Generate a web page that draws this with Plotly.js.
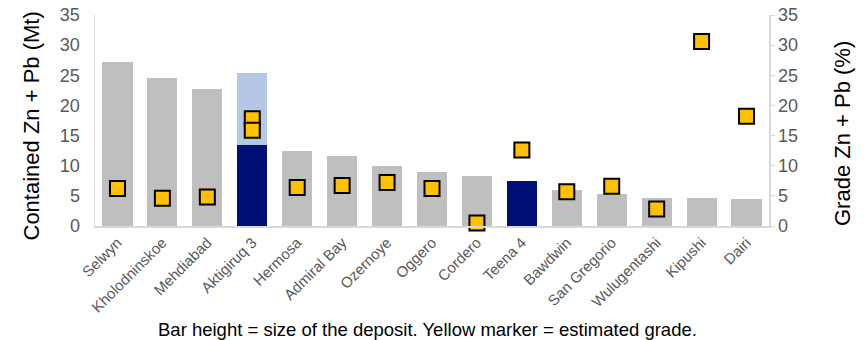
<!DOCTYPE html>
<html><head><meta charset="utf-8">
<script src="https://cdn.plot.ly/plotly-3.0.1.min.js"></script>
<style>html,body{margin:0;padding:0;background:#fff;}#chart{width:867px;height:340px;}</style>
</head><body><div id="chart"></div>
<script>
const deposits = ["Selwyn","Kholodninskoe","Mehdiabad","Aktigiruq 3","Hermosa","Admiral Bay","Ozernoye","Oggero","Cordero","Teena 4","Bawdwin","San Gregorio","Wulugentashi","Kipushi","Dairi"];
const otherSize = [27.2,24.6,22.7,null,12.4,11.6,9.9,8.9,8.3,null,5.9,5.3,4.7,4.7,4.5];
const highlightSize = [null,null,null,13.5,null,null,null,null,null,7.4,null,null,null,null,null];
const upsideSize = [null,null,null,11.9,null,null,null,null,null,null,null,null,null,null,null];
const gradeNames = ["Selwyn","Kholodninskoe","Mehdiabad","Aktigiruq 3","Aktigiruq 3","Hermosa","Admiral Bay","Ozernoye","Oggero","Cordero","Teena 4","Bawdwin","San Gregorio","Wulugentashi","Kipushi","Dairi"];
const gradeValues = [6.2,4.6,4.8,17.8,15.9,6.4,6.7,7.2,6.2,0.5,12.6,5.7,6.6,2.8,30.6,18.2];
const yTicks = [0,5,10,15,20,25,30,35];
const leftTitle = "Contained Zn + Pb (Mt)";
const rightTitle = "Grade Zn + Pb (%)";
const note = "Bar height = size of the deposit. Yellow marker = estimated grade.";

const font = "Liberation Sans, Arial, sans-serif";
const traces = [
  {type:"bar", x:deposits, y:otherSize, marker:{color:"#BFBFBF"}, hoverinfo:"skip"},
  {type:"bar", x:deposits, y:highlightSize, marker:{color:"#000F78"}, hoverinfo:"skip"},
  {type:"bar", x:deposits, y:upsideSize, marker:{color:"#B4C7E7"}, hoverinfo:"skip"},
  {type:"scatter", mode:"markers", x:gradeNames, y:gradeValues, yaxis:"y2", cliponaxis:false,
   marker:{symbol:"square", size:15, color:"#FFC000", line:{color:"#000000", width:2}}, hoverinfo:"skip"}
];
const layout = {
  width:867, height:340,
  margin:{l:95, r:98, t:15, b:114, autoexpand:false},
  paper_bgcolor:"#fff", plot_bgcolor:"#fff",
  showlegend:false, barmode:"stack", bargap:0.33,
  font:{family:font, color:"#595959"},
  xaxis:{type:"category", automargin:false, range:[-0.5, deposits.length - 0.5], showline:true, linecolor:"#D9D9D9", linewidth:2, ticks:"", showgrid:false,
         tickangle:-45, tickfont:{size:15, color:"#595959"}, fixedrange:true},
  yaxis:{range:[0,35], automargin:false, tickvals:yTicks, showgrid:false, zeroline:false, showline:true, linecolor:"#D9D9D9", linewidth:1.5,
         ticks:"", ticklabelstandoff:10, tickfont:{size:18, color:"#595959"}},
  yaxis2:{range:[0,35], automargin:false, tickvals:yTicks, overlaying:"y", side:"right", showgrid:false, zeroline:false,
          showline:true, linecolor:"#D9D9D9", linewidth:1.5, ticks:"outside", ticklen:4, tickcolor:"#D9D9D9",
          tickfont:{size:18, color:"#595959"}},
  annotations:[
    {text:leftTitle, textangle:-90, xref:"paper", yref:"paper", x:0, y:0.5, showarrow:false,
     xanchor:"center", yanchor:"middle", font:{size:22, color:"#000"}},
    {text:rightTitle, textangle:-90, xref:"paper", yref:"paper", x:1, y:0.5, showarrow:false,
     xanchor:"center", yanchor:"middle", font:{size:22, color:"#000"}},
    {text:note, xref:"paper", yref:"paper", x:0.5, y:0, showarrow:false,
     xanchor:"center", yanchor:"middle", font:{size:18.5, color:"#000"}}
  ]
};
// position annotations in pixel terms relative to the plot area
const plotW = 867 - 95 - 98, plotH = 340 - 15 - 114;
layout.annotations[0].x = (31 - 95) / plotW;
layout.annotations[0].y = (226 - 126.5) / plotH;
layout.annotations[1].x = (842 - 95) / plotW;
layout.annotations[1].y = (226 - 134) / plotH;
layout.annotations[2].x = (427.5 - 95) / plotW;
layout.annotations[2].y = (226 - 329) / plotH;
Plotly.newPlot("chart", traces, layout, {displayModeBar:false, staticPlot:true});
</script></body></html>
